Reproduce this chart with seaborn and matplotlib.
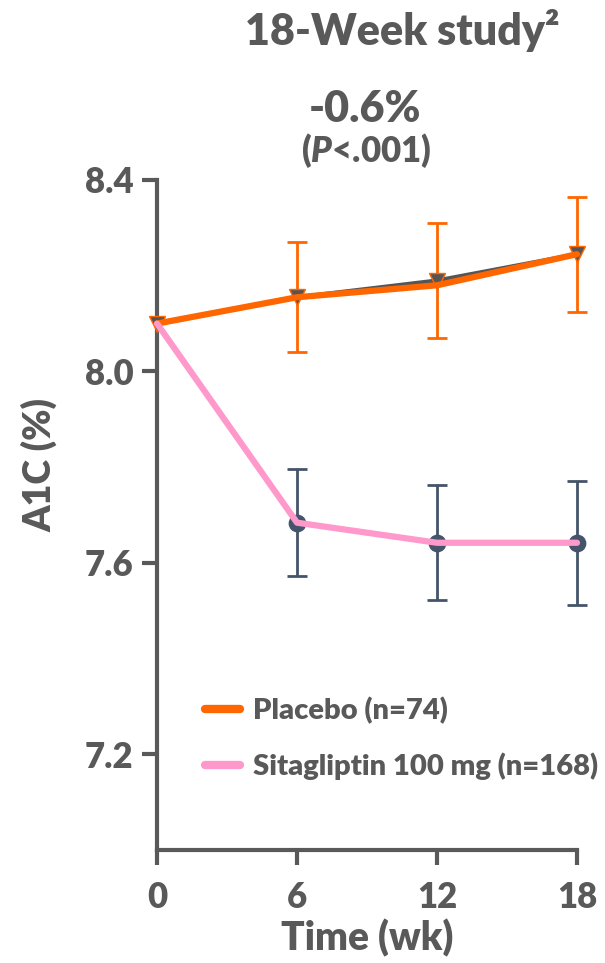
import matplotlib
matplotlib.use("Agg")
import matplotlib.pyplot as plt
import seaborn as sns
import pandas as pd
from matplotlib.lines import Line2D

# ---- data ----
weeks = [0, 6, 12, 18]
placebo_mean = [8.10, 8.155, 8.19, 8.245]
placebo_line = [8.10, 8.155, 8.18, 8.245]
placebo_err = [0.0, 0.115, 0.12, 0.12]
sita_mean = [8.10, 7.684, 7.642, 7.642]
sita_err = [0.0, 0.112, 0.12, 0.13]
yticks = [7.2, 7.6, 8.0, 8.4]
xticks = [0, 6, 12, 18]
legend_labels = ["Placebo (n=74)", "Sitagliptin 100 mg (n=168)"]

GRAY = "#595959"
ORANGE = "#ff6600"
PINK = "#ff99cc"
NAVY = "#44546a"
MK = "#555555"
W = "heavy"

sns.set_style("ticks")
plt.rcParams["font.family"] = ["Lato", "DejaVu Sans"]
plt.rcParams["font.weight"] = W
plt.rcParams["mathtext.fontset"] = "custom"
plt.rcParams["mathtext.it"] = "Lato:italic:heavy"
plt.rcParams["mathtext.rm"] = "Lato:heavy"

fig = plt.figure(figsize=(6.05, 9.63), dpi=100)
ax = fig.add_axes([157/605, 1-850/963, 420/605, 670/963])

df_p = pd.DataFrame({"week": weeks, "a1c": placebo_mean})
df_pl = pd.DataFrame({"week": weeks, "a1c": placebo_line})
df_s = pd.DataFrame({"week": weeks, "a1c": sita_mean})

# placebo: gray underlying line with markers, orange line on top
sns.lineplot(data=df_p, x="week", y="a1c", ax=ax, color=MK, lw=3,
             marker="v", markersize=12, markeredgecolor=ORANGE,
             markerfacecolor=MK, markeredgewidth=1.0, zorder=3, clip_on=False)
ax.errorbar(weeks[1:], placebo_mean[1:], yerr=placebo_err[1:], fmt="none",
            ecolor=ORANGE, elinewidth=2, capsize=7, capthick=2, zorder=2,
            clip_on=False)
sns.lineplot(data=df_pl, x="week", y="a1c", ax=ax, color=ORANGE, lw=4.5,
             zorder=4, clip_on=False)

# sitagliptin
ax.errorbar(weeks[1:], sita_mean[1:], yerr=sita_err[1:], fmt="none",
            ecolor=NAVY, elinewidth=2, capsize=7, capthick=2, zorder=2,
            clip_on=False)
sns.scatterplot(data=df_s.iloc[1:], x="week", y="a1c", ax=ax, color=NAVY,
                s=140, edgecolor=NAVY, zorder=3, clip_on=False, legend=False)
sns.lineplot(data=df_s, x="week", y="a1c", ax=ax, color=PINK, lw=4.5,
             zorder=5, clip_on=False)

ax.set_xlim(0, 18)
ax.set_ylim(7.0, 8.4)
ax.set_xticks(xticks)
ax.set_yticks(yticks)
ax.set_yticklabels([f"{v:.1f}" for v in yticks])
ax.set_xticklabels([str(v) for v in xticks])
for sp in ["top", "right"]:
    ax.spines[sp].set_visible(False)
for sp in ["left", "bottom"]:
    ax.spines[sp].set_color(GRAY)
    ax.spines[sp].set_linewidth(3)
ax.tick_params(axis="both", colors=GRAY, length=11, width=3, labelsize=25)
ax.tick_params(axis="x", pad=11)
ax.tick_params(axis="y", pad=6)
for lab in ax.get_xticklabels() + ax.get_yticklabels():
    lab.set_fontweight(W)

ax.set_xlabel("Time (wk)", fontsize=28, color=GRAY, fontweight=W, labelpad=4)
ax.set_ylabel("A1C (%)", fontsize=27, color=GRAY, fontweight=W)
ax.yaxis.set_label_coords(-0.236, 0.575)

handles = [Line2D([0], [0], color=ORANGE, lw=6),
           Line2D([0], [0], color=PINK, lw=6)]
leg = ax.legend(handles, legend_labels, loc="upper left",
                bbox_to_anchor=(0.114, 0.228), frameon=False, fontsize=21,
                handlelength=1.2, handletextpad=0.45, labelspacing=0.95,
                borderpad=0, borderaxespad=0)
for t in leg.get_texts():
    t.set_color(GRAY)
    t.set_fontweight(W)

fig.text(402/605, 1-45/963, "18-Week study²", ha="center", va="baseline",
         fontsize=31, color=GRAY, fontweight=W)
fig.text(365/605, 1-122/963, "-0.6%", ha="center", va="baseline",
         fontsize=31, color=GRAY, fontweight=W)
fig.text(366/605, 1-162/963, r"($\mathit{P}$<.001)", ha="center", va="baseline",
         fontsize=25, color=GRAY, fontweight=W)

fig.savefig("out.png", dpi=100)
